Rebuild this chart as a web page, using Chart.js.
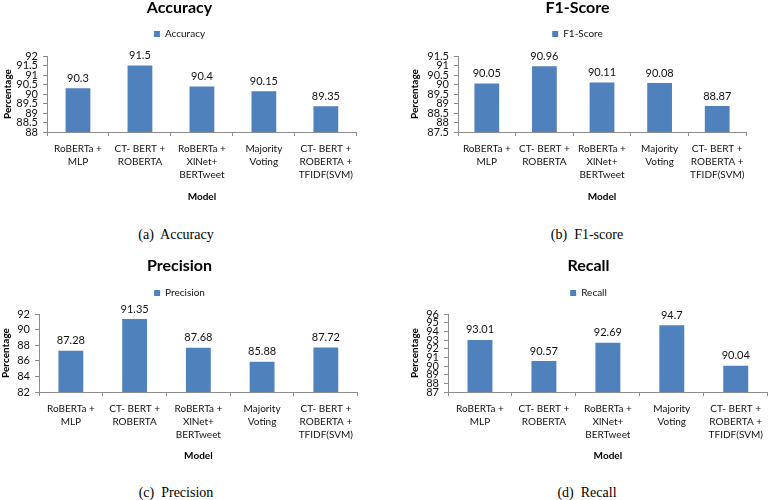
<!DOCTYPE html>
<html>
<head>
<meta charset="utf-8">
<script src="https://cdn.jsdelivr.net/npm/chart.js@4"></script>
<style>
body { margin: 0; background: #fff; width: 770px; height: 500px; position: relative; overflow: hidden; }
.panel { position: absolute; }
.caption { position: absolute; font-family: "Liberation Serif", "Times New Roman", serif; font-size: 14px; line-height: 16px; white-space: pre; transform: translateX(-50%); color: #000; }
</style>
</head>
<body>

<div class="panel" style="left:0px; top:0px; width:359px; height:206px;"><canvas id="accuracyChart"></canvas></div>
<div class="panel" style="left:409px; top:0px; width:356px; height:206px;"><canvas id="f1Chart"></canvas></div>
<div class="panel" style="left:0px; top:258px; width:359px; height:207px;"><canvas id="precisionChart"></canvas></div>
<div class="panel" style="left:409px; top:258px; width:360px; height:207px;"><canvas id="recallChart"></canvas></div>

<div class="caption" style="left:176px; top:227px;">(a)  Accuracy</div>
<div class="caption" style="left:587px; top:227px;">(b)  F1-score</div>
<div class="caption" style="left:176px; top:485px;">(c)  Precision</div>
<div class="caption" style="left:587px; top:485px;">(d)  Recall</div>

<script>
// ===========================
// DATA
// ===========================

const models = [
    ["RoBERTa +", "MLP"],
    ["CT- BERT +", "ROBERTA"],
    ["RoBERTa +", "XlNet+", "BERTweet"],
    ["Majority", "Voting"],
    ["CT- BERT +", "ROBERTA +", "TFIDF(SVM)"]
];

const accuracy  = [90.3, 91.5, 90.4, 90.15, 89.35];
const f1Score   = [90.05, 90.96, 90.11, 90.08, 88.87];
const precision = [87.28, 91.35, 87.68, 85.88, 87.72];
const recall    = [93.01, 90.57, 92.69, 94.7, 90.04];

// y axis: [min, max, step]
const accuracyTicks  = [88, 92, 0.5];
const f1Ticks        = [87.5, 91.5, 0.5];
const precisionTicks = [82, 92, 2];
const recallTicks    = [87, 96, 1];

// ===========================
// SETTINGS
// ===========================

Chart.defaults.font.family = "Lato, 'Open Sans', sans-serif";
Chart.defaults.font.size = 10;
Chart.defaults.color = "#111";

const barColor = "#4F81BD";
const axisColor = "#8c8c8c";

// more room under the legend
const legendGap = {
    id: "legendGap",
    beforeInit(chart, args, options) {
        const fit = chart.legend.fit;
        chart.legend.fit = function () {
            fit.bind(chart.legend)();
            this.height += options.extra;
        };
    }
};

// value above each bar
const valueLabels = {
    id: "valueLabels",
    afterDatasetsDraw(chart) {
        const ctx = chart.ctx;
        const values = chart.data.datasets[0].data;
        ctx.save();
        ctx.font = "11px Lato, 'Open Sans', sans-serif";
        ctx.fillStyle = "#111";
        ctx.textAlign = "center";
        ctx.textBaseline = "middle";
        chart.getDatasetMeta(0).data.forEach((bar, i) => {
            ctx.fillText(values[i], bar.x, bar.y - 10);
        });
        ctx.restore();
    }
};

function makeChart(id, title, values, yTicks, box) {

    return new Chart(document.getElementById(id), {

        type: "bar",

        data: {
            labels: models,
            datasets: [{
                label: title,
                data: values,
                backgroundColor: barColor,
                borderWidth: 0,
                barPercentage: box.bar,
                categoryPercentage: 1
            }]
        },

        options: {
            responsive: true,
            maintainAspectRatio: false,
            animation: false,
            layout: { padding: { top: 0, right: box.right, bottom: 0, left: 0 } },

            plugins: {
                title: {
                    display: true,
                    text: title,
                    color: "#000",
                    font: { size: 16, weight: "bold", lineHeight: 1 },
                    padding: { top: 0, bottom: box.titleGap }
                },
                legend: {
                    labels: {
                        boxWidth: 6,
                        boxHeight: 6,
                        padding: box.legendPad,
                        font: { size: 10 }
                    }
                },
                tooltip: { enabled: false },
                legendGap: { extra: box.extra }
            },

            scales: {
                x: {
                    grid: { drawOnChartArea: false, tickLength: 4, color: axisColor },
                    border: { color: axisColor },
                    ticks: { padding: 6, maxRotation: 0, autoSkip: false, font: { size: 10, lineHeight: 1.3 } },
                    title: {
                        display: true,
                        text: "Model",
                        color: "#000",
                        font: { size: 10, weight: "bold" },
                        padding: { top: 4, bottom: 3 }
                    },
                    afterFit: scale => { scale.height = box.xHeight; }
                },
                y: {
                    min: yTicks[0],
                    max: yTicks[1],
                    ticks: {
                        stepSize: yTicks[2],
                        autoSkip: false,
                        padding: 5,
                        font: { size: 11 },
                        callback: value => String(value)
                    },
                    grid: { drawOnChartArea: false, tickLength: 4, color: axisColor },
                    border: { color: axisColor },
                    title: {
                        display: true,
                        text: "Percentage",
                        color: "#000",
                        font: { size: 10, weight: "bold" },
                        padding: { top: box.yTitlePad, bottom: 0 }
                    },
                    afterFit: scale => { scale.width = box.yWidth; }
                }
            }
        },

        plugins: [legendGap, valueLabels]
    });
}

// ===========================
// CHARTS
// ===========================

makeChart("accuracyChart", "Accuracy", accuracy, accuracyTicks,
    { bar: 0.4, right: 0, titleGap: 5, legendPad: 8, extra: 7, yWidth: 47, xHeight: 74, yTitlePad: 2 });

makeChart("f1Chart", "F1-Score", f1Score, f1Ticks,
    { bar: 0.43, right: 19, titleGap: 5, legendPad: 8, extra: 7, yWidth: 49, xHeight: 74, yTitlePad: 0 });

makeChart("precisionChart", "Precision", precision, precisionTicks,
    { bar: 0.39, right: 0, titleGap: 6, legendPad: 8, extra: 6, yWidth: 39, xHeight: 73, yTitlePad: 0 });

makeChart("recallChart", "Recall", recall, recallTicks,
    { bar: 0.39, right: 1, titleGap: 6, legendPad: 8, extra: 6, yWidth: 39, xHeight: 73, yTitlePad: 0 });
</script>
</body>
</html>
